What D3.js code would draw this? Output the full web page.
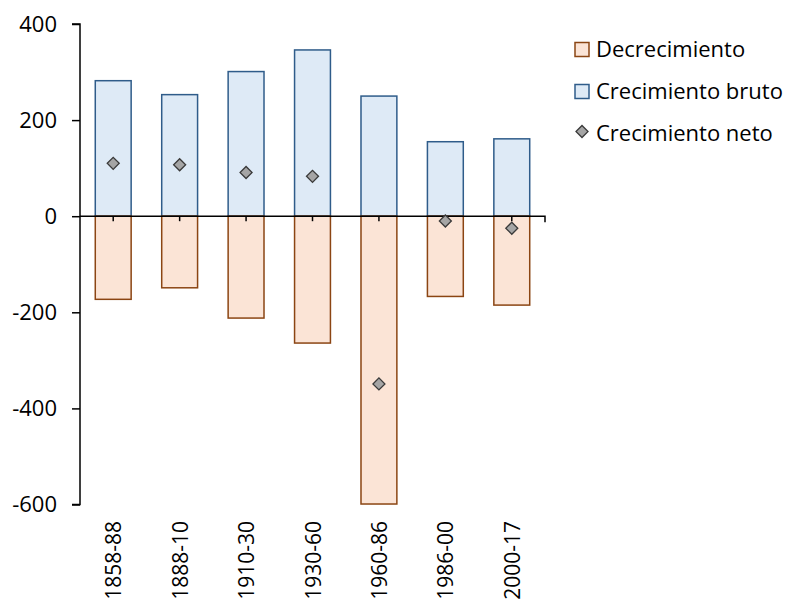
<!DOCTYPE html>
<html><head><meta charset="utf-8">
<script src="https://cdn.jsdelivr.net/npm/d3@7/dist/d3.min.js"></script>
<style>body{margin:0;background:#fff;} text{font-family:"Open Sans",sans-serif;}</style>
</head><body>
<svg id="c" width="785" height="602"></svg>
<script>
const categories = ["1858-88","1888-10","1910-30","1930-60","1960-86","1986-00","2000-17"];
const crecimientoBruto = [282, 253, 301, 346, 250, 155, 161];
const decrecimiento = [-173, -149, -212, -264, -599, -167, -185];
const crecimientoNeto = [110, 107, 91, 83, -349, -10, -25];
const yTicks = [400, 200, 0, -200, -400, -600];
const seriesNames = ["Decrecimiento", "Crecimiento bruto", "Crecimiento neto"];

const svg = d3.select("#c");
const mLeft = 80, mRight = 545, mTop = 24, mBottom = 504.5;
const x = d3.scaleBand().domain(categories).range([mLeft, mRight]).paddingInner(0.46).paddingOuter(0.23);
const y = d3.scaleLinear().domain([-600, 400]).range([mBottom, mTop]);
const fs = "22px";
const ff = "'Open Sans', sans-serif";

// bars
const g = svg.append("g");
g.selectAll(".bruto").data(categories).join("rect").attr("class","bruto")
  .attr("x", d => x(d)).attr("width", x.bandwidth())
  .attr("y", (d,i) => y(crecimientoBruto[i])).attr("height", (d,i) => y(0) - y(crecimientoBruto[i]))
  .attr("fill", "#DEEAF6").attr("stroke", "#2F5C8A").attr("stroke-width", 1.5);
g.selectAll(".dec").data(categories).join("rect").attr("class","dec")
  .attr("x", d => x(d)).attr("width", x.bandwidth())
  .attr("y", y(0)).attr("height", (d,i) => y(decrecimiento[i]) - y(0))
  .attr("fill", "#FBE4D6").attr("stroke", "#8B4513").attr("stroke-width", 1.5);

// y axis
const yAxis = d3.axisLeft(y).tickValues(yTicks).tickSize(8).tickFormat(d => String(d));
const ya = svg.append("g").attr("transform", `translate(${mLeft},0)`).call(yAxis);
ya.select(".domain").attr("stroke", "#000").attr("stroke-width", 1.5).attr("d", `M-8,${y(400)}H0V${y(-600)}H-8`);
ya.selectAll(".tick line").attr("stroke", "#000").attr("stroke-width", 1.5);
ya.selectAll(".tick text").attr("font-size", fs).attr("fill", "#000").attr("x", -23).attr("font-family", ff);

// x axis at zero
const xAxis = d3.axisBottom(x).tickSize(5).tickFormat("");
const xa = svg.append("g").attr("transform", `translate(0,${y(0)})`).call(xAxis);
xa.select(".domain").attr("stroke", "#000").attr("stroke-width", 1.5).attr("d", `M${mLeft},0H${mRight}V6`);
xa.selectAll(".tick line").attr("stroke", "#000").attr("stroke-width", 1.5);

// x labels (rotated)
svg.append("g").selectAll("text").data(categories).join("text")
  .attr("transform", d => `translate(${x(d) + x.bandwidth()/2 + 8},${521}) rotate(-90)`)
  .attr("text-anchor", "end").attr("font-size", "21px").attr("fill", "#000").text(d => d);

// diamonds
const sym = d3.symbol().type(d3.symbolSquare).size(72);
svg.append("g").selectAll("path").data(categories).join("path")
  .attr("d", sym)
  .attr("transform", (d,i) => `translate(${x(d) + x.bandwidth()/2},${y(crecimientoNeto[i])}) rotate(45)`)
  .attr("fill", "#A5A5A5").attr("stroke", "#3A3A3A").attr("stroke-width", 1.3);

// legend
const lg = svg.append("g");
const ly = [49.5, 91.5, 133];
lg.append("rect").attr("x", 575).attr("y", ly[0]-7).attr("width", 14).attr("height", 14)
  .attr("fill", "#FBE4D6").attr("stroke", "#8B4513").attr("stroke-width", 1.5);
lg.append("rect").attr("x", 575).attr("y", ly[1]-7).attr("width", 14).attr("height", 14)
  .attr("fill", "#DEEAF6").attr("stroke", "#2F5C8A").attr("stroke-width", 1.5);
lg.append("path").attr("d", d3.symbol().type(d3.symbolSquare).size(72)())
  .attr("transform", `translate(582,${ly[2]-1.5}) rotate(45)`)
  .attr("fill", "#A5A5A5").attr("stroke", "#3A3A3A").attr("stroke-width", 1.3);
lg.selectAll("text").data(seriesNames).join("text")
  .attr("x", 596).attr("y", (d,i) => ly[i]).attr("dy", "0.35em")
  .attr("font-size", fs).attr("fill", "#000").text(d => d);
</script>
</body></html>
